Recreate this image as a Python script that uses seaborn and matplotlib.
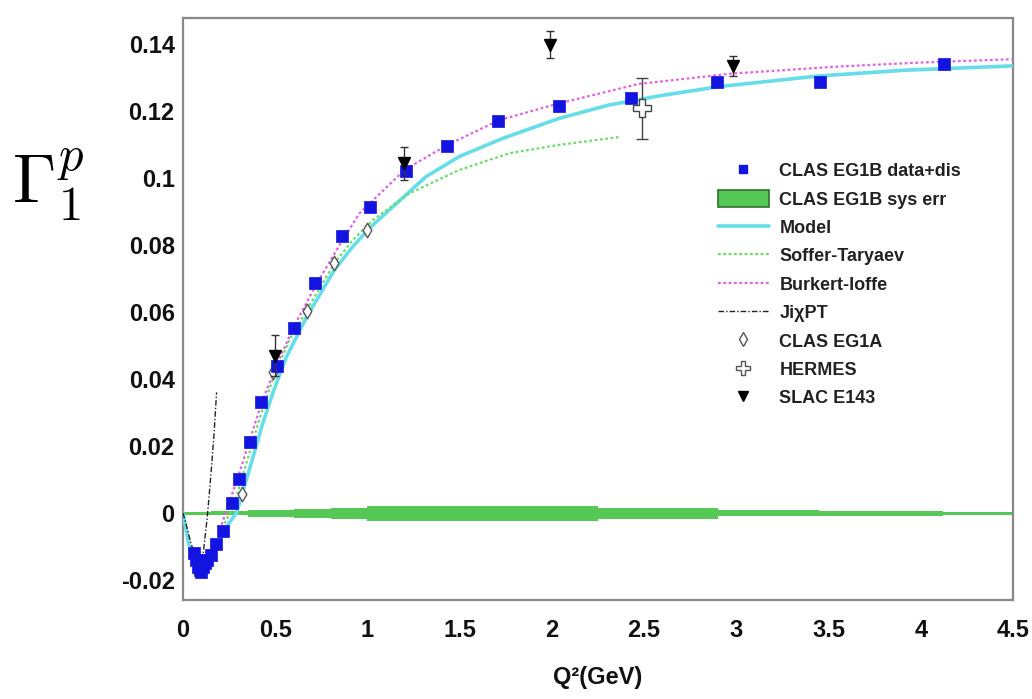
import numpy as np
import pandas as pd
import matplotlib
matplotlib.use("Agg")
import matplotlib.pyplot as plt
import seaborn as sns
from matplotlib.lines import Line2D
from matplotlib.patches import Patch
from matplotlib.ticker import MultipleLocator, FixedLocator

# ---------------- data ----------------
eg1b_q2 = [0.06, 0.07, 0.08, 0.09, 0.10, 0.11, 0.12, 0.13, 0.15, 0.18, 0.215,
           0.263, 0.304, 0.362, 0.425, 0.51, 0.60, 0.714, 0.86, 1.016, 1.21,
           1.434, 1.71, 2.038, 2.43, 2.897, 3.452, 4.124]
eg1b_g1 = [-0.012, -0.014, -0.016, -0.017, -0.0175, -0.016, -0.015, -0.014,
           -0.0125, -0.0092, -0.0053, 0.0029, 0.0101, 0.0213, 0.0332, 0.0439,
           0.0551, 0.0686, 0.0828, 0.0914, 0.102, 0.1096, 0.1171, 0.1215,
           0.1238, 0.1286, 0.1288, 0.134]

model_q2 = [0.0, 0.03, 0.06, 0.09, 0.12, 0.15, 0.20, 0.25, 0.29, 0.36, 0.43,
            0.49, 0.56, 0.67, 0.82, 0.92, 1.01, 1.137, 1.317, 1.497, 1.731,
            2.038, 2.308, 2.578, 2.903, 3.45, 3.91, 4.5]
model_g1 = [0.0, -0.009, -0.015, -0.0175, -0.017, -0.014, -0.008, -0.003, 0.0,
            0.013, 0.0263, 0.0363, 0.0465, 0.0585, 0.0725, 0.0795, 0.085,
            0.0914, 0.1004, 0.1064, 0.1118, 0.1178, 0.1218, 0.1245, 0.1273,
            0.1305, 0.1322, 0.1335]

st_q2 = [0.20, 0.28, 0.35, 0.42, 0.49, 0.58, 0.67, 0.82, 0.92, 1.03, 1.227,
         1.497, 1.768, 2.038, 2.371]
st_g1 = [-0.006, 0.003, 0.016, 0.029, 0.0405, 0.052, 0.0605, 0.0745, 0.0815,
         0.0875, 0.0954, 0.1024, 0.1074, 0.1099, 0.1123]

bi_q2 = [0.20, 0.25, 0.30, 0.36, 0.43, 0.51, 0.60, 0.72, 0.86, 0.957, 1.08,
         1.20, 1.434, 1.714, 2.038, 2.47, 2.975, 3.55, 4.0, 4.5]
bi_g1 = [-0.005, 0.003, 0.011, 0.0215, 0.0335, 0.0445, 0.0555, 0.068, 0.081,
         0.0895, 0.096, 0.1024, 0.1099, 0.1173, 0.1223, 0.1281, 0.1312,
         0.1333, 0.1345, 0.1355]

ji_q2 = [0.0, 0.02, 0.04, 0.06, 0.08, 0.10, 0.11, 0.12, 0.13, 0.14, 0.155,
         0.17, 0.182]
ji_g1 = [0.0, -0.004, -0.0085, -0.012, -0.0145, -0.0145, -0.012, -0.007,
         -0.002, 0.004, 0.014, 0.025, 0.036]

sys_edges = [0.0, 0.15, 0.35, 0.6, 0.8, 1.0, 2.25, 2.9, 3.45, 4.12, 4.5]
sys_hi = [0.0004, 0.0006, 0.0009, 0.0012, 0.0015, 0.0021, 0.0015, 0.0009,
          0.0007, 0.0004]
sys_lo = [-0.0005, -0.0007, -0.0011, -0.0015, -0.0018, -0.0025, -0.0017,
          -0.0010, -0.0008, -0.0005]

eg1a_q2 = [0.32, 0.49, 0.67, 0.82, 0.995]
eg1a_g1 = [0.0056, 0.042, 0.0602, 0.0745, 0.0845]

hermes_q2 = [2.49]
hermes_g1 = [0.1208]
hermes_err = [0.009]

slac_q2 = [0.50, 1.20, 1.99, 2.98]
slac_g1 = [0.047, 0.1044, 0.1398, 0.1335]
slac_err = [0.006, 0.005, 0.004, 0.003]

x_ticks = [0, 0.5, 1, 1.5, 2, 2.5, 3, 3.5, 4, 4.5]
x_tick_labels = ["0", "0.5", "1", "1.5", "2", "2.5", "3", "3.5", "4", "4.5"]
y_ticks = [-0.02, 0, 0.02, 0.04, 0.06, 0.08, 0.1, 0.12, 0.14]
y_tick_labels = ["-0.02", "0", "0.02", "0.04", "0.06", "0.08", "0.1", "0.12", "0.14"]

legend_labels = ["CLAS EG1B data+dis", "CLAS EG1B sys err", "Model",
                 "Soffer-Taryaev", "Burkert-Ioffe", "JiχPT", "CLAS EG1A",
                 "HERMES", "SLAC E143"]

# ---------------- style ----------------
sns.set_theme(style="white")
plt.rcParams["font.family"] = ["Liberation Sans", "DejaVu Sans"]
plt.rcParams["mathtext.fontset"] = "cm"

BLUE = "#1414e0"
CYAN = "#66dde8"
GREEN_BAND = "#55c855"
GREEN_DOT = "#66dd66"
MAGENTA = "#e060e0"

fig = plt.figure(figsize=(10.32, 6.99), dpi=100)
W, H = 1032, 699
ax = fig.add_axes([183 / W, 1 - 600 / H, (1013 - 183) / W, (600 - 18) / H])

# sys error band (step)
hi = list(sys_hi) + [sys_hi[-1]]
lo = list(sys_lo) + [sys_lo[-1]]
ax.fill_between(sys_edges, lo, hi, step="post", color=GREEN_BAND, lw=0, zorder=2)

# curves
sns.lineplot(x=model_q2, y=model_g1, ax=ax, color=CYAN, lw=2.6, sort=False,
             estimator=None, errorbar=None, zorder=3)
sns.lineplot(x=st_q2, y=st_g1, ax=ax, color=GREEN_DOT, lw=1.6, sort=False,
             estimator=None, errorbar=None, zorder=3, linestyle=(0, (1.2, 1.2)))
sns.lineplot(x=bi_q2, y=bi_g1, ax=ax, color=MAGENTA, lw=1.6, sort=False,
             estimator=None, errorbar=None, zorder=3, linestyle=(0, (1.2, 1.2)))
sns.lineplot(x=ji_q2, y=ji_g1, ax=ax, color="#222222", lw=1.0, sort=False,
             estimator=None, errorbar=None, zorder=3,
             linestyle=(0, (4, 1.5, 1, 1.5)))

# data points
sns.scatterplot(x=eg1a_q2, y=eg1a_g1, ax=ax, marker="d", s=55,
                facecolor="white", edgecolor="#555555", linewidth=1.0, zorder=4)
sns.scatterplot(x=eg1b_q2, y=eg1b_g1, ax=ax, marker="s", s=75, color=BLUE,
                edgecolor=BLUE, linewidth=0.5, zorder=5)
ax.errorbar(hermes_q2, hermes_g1, yerr=hermes_err, fmt="P", ms=13, mfc="white",
            mec="#444444", mew=1.0, ecolor="#444444", elinewidth=1.0,
            capsize=4, zorder=6)
ax.errorbar(slac_q2, slac_g1, yerr=slac_err, fmt="v", ms=8, mfc="black",
            mec="black", ecolor="#333333", elinewidth=1.0, capsize=3, zorder=6)

# axes
ax.set_xlim(0, 4.5)
ax.set_ylim(-0.026, 0.1478)
ax.xaxis.set_major_locator(FixedLocator(x_ticks))
ax.set_xticklabels(x_tick_labels)
ax.yaxis.set_major_locator(FixedLocator(y_ticks))
ax.set_yticklabels(y_tick_labels)
ax.xaxis.set_minor_locator(MultipleLocator(0.1))
ax.yaxis.set_minor_locator(MultipleLocator(0.004))
ax.tick_params(axis="both", which="both", direction="in", top=False,
               right=False, color="#777777")
ax.tick_params(axis="both", which="major", length=16, width=1.0,
               labelsize=17)
ax.tick_params(axis="x", which="major", pad=14)
ax.tick_params(axis="y", which="major", pad=6)
ax.tick_params(axis="both", which="minor", length=8, width=0.9)
for lab in ax.get_xticklabels() + ax.get_yticklabels():
    lab.set_fontweight("bold")
    lab.set_color("#111111")
for sp in ax.spines.values():
    sp.set_color("#888888")
    sp.set_linewidth(1.6)

ax.set_xlabel("Q²(GeV)", fontsize=17, fontweight="bold", color="#111111",
              labelpad=17)
ax.set_ylabel("")
fig.text(12 / W, 1 - 185 / H, r"$\Gamma_1^p$", fontsize=50, va="center",
         ha="left", color="black")

# legend
handles = [
    Line2D([], [], ls="none", marker="s", ms=6, color=BLUE),
    Patch(facecolor=GREEN_BAND, edgecolor="#2f6f2f", linewidth=1.2),
    Line2D([], [], color=CYAN, lw=2.6),
    Line2D([], [], color=GREEN_DOT, lw=1.6, ls=(0, (1.2, 1.2))),
    Line2D([], [], color=MAGENTA, lw=1.6, ls=(0, (1.2, 1.2))),
    Line2D([], [], color="#222222", lw=1.0, ls=(0, (4, 1.5, 1, 1.5))),
    Line2D([], [], ls="none", marker="d", ms=7, mfc="white", mec="#555555"),
    Line2D([], [], ls="none", marker="P", ms=10, mfc="white", mec="#555555"),
    Line2D([], [], ls="none", marker="v", ms=7, color="black"),
]
leg = ax.legend(handles, legend_labels, loc="upper left",
                bbox_to_anchor=(718 / W, 1 - 162 / H),
                bbox_transform=fig.transFigure, frameon=False,
                borderaxespad=0, borderpad=0, handlelength=2.8,
                handleheight=1.0, handletextpad=0.6, labelspacing=0.56,
                prop={"family": ["Liberation Sans", "DejaVu Sans"],
                      "weight": "bold", "size": 13})
for t in leg.get_texts():
    t.set_color("#222222")

fig.savefig("out.png", dpi=100, facecolor="white")
